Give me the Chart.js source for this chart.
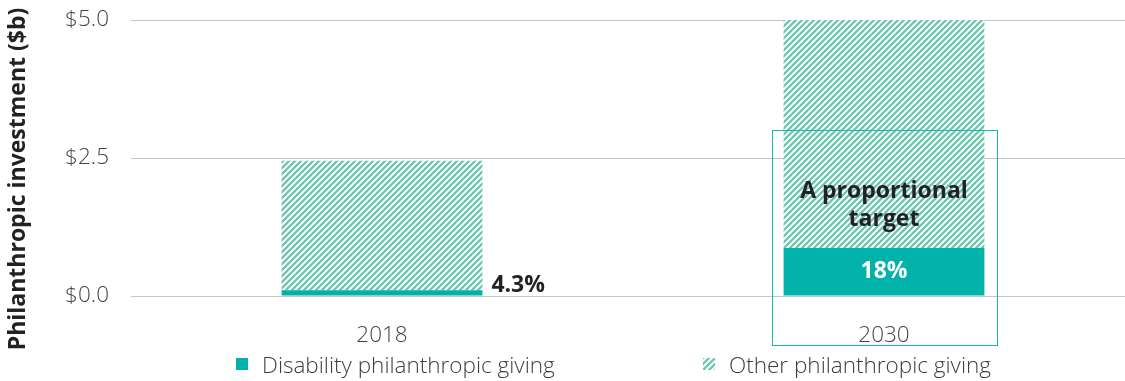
<!DOCTYPE html>
<html>
<head>
<meta charset="utf-8">
<script src="https://cdn.jsdelivr.net/npm/chart.js@4.4.1/dist/chart.umd.min.js"></script>
<style>
  html, body { margin: 0; padding: 0; background: #fff; overflow: hidden; }
  #wrap { position: relative; width: 1125px; height: 381px; overflow: hidden; }
  #legend { position: absolute; top: 349px; left: 0; width: 1125px; height: 30px;
            font-family: "Open Sans", sans-serif; font-weight: 300; font-size: 22.5px; color: #3d3d3d; }
  .item { position: absolute; top: 0; display: flex; align-items: center; height: 30px; }
  .box { width: 12px; height: 12px; margin-right: 14px; }
</style>
</head>
<body>
<div id="wrap">
  <canvas id="grafico" width="1135" height="381"></canvas>
  <div id="legend">
    <div class="item" style="left:236px"><span class="box" style="background:#00b2a9"></span>Disability philanthropic giving</div>
    <div class="item" style="left:703px"><span class="box" id="hatchBox"></span>Other philanthropic giving</div>
  </div>
</div>
<script>
// Dados do gráfico
const years = ['2018', '2030'];
const disabilityGiving = [0.105, 0.87];
const otherGiving = [2.345, 4.13];
const shareLabels = ['4.3%', '18%'];
const yTicks = [0, 2.5, 5.0];
const targetBoxTop = 3.0;

const teal = '#00b2a9';
const hatchColor = '#6ec6b0';

// Cria padrão listrado
function makeHatch() {
    const s = 6;
    const c = document.createElement('canvas');
    c.width = s; c.height = s;
    const g = c.getContext('2d');
    g.fillStyle = '#fff';
    g.fillRect(0, 0, s, s);
    g.strokeStyle = hatchColor;
    g.lineWidth = 2.3;
    g.beginPath();
    g.moveTo(-s / 4, s / 4); g.lineTo(s / 4, -s / 4);
    g.moveTo(0, s); g.lineTo(s, 0);
    g.moveTo(s * 0.75, s * 1.25); g.lineTo(s * 1.25, s * 0.75);
    g.stroke();
    return c;
}
const hatchCanvas = makeHatch();
const ctx = document.getElementById('grafico').getContext('2d');
const hatch = ctx.createPattern(hatchCanvas, 'repeat');
document.getElementById('hatchBox').style.background = 'url(' + hatchCanvas.toDataURL() + ')';

// Rótulos e anotações
const annotations = {
    id: 'annotations',
    afterDatasetsDraw(chart) {
        const c = chart.ctx;
        const y = chart.scales.y;
        const area = chart.chartArea;
        const base = chart.getDatasetMeta(0).data;
        const top = chart.getDatasetMeta(1).data;

        c.save();
        // Caixa de destaque em 2030
        const b = top[1];
        const left = b.x - b.width / 2 - 12;
        const right = b.x + b.width / 2 + 12;
        c.strokeStyle = '#14bbaf';
        c.lineWidth = 1;
        c.strokeRect(Math.round(left) + 0.5, Math.round(y.getPixelForValue(targetBoxTop)) + 0.5,
            Math.round(right - left), Math.round(area.bottom + 49 - y.getPixelForValue(targetBoxTop)));

        c.font = 'bold 23px "Open Sans"';
        c.textBaseline = 'middle';
        // 4.3%
        c.fillStyle = '#222';
        c.textAlign = 'left';
        const b0 = base[0];
        c.fillText(shareLabels[0], b0.x + b0.width / 2 + 9, area.bottom - 11);
        // 18%
        const b1 = base[1];
        c.textAlign = 'center';
        c.fillStyle = '#fff';
        c.fillText(shareLabels[1], b1.x, (b1.y + b1.base) / 2);
        // texto do alvo
        c.fillStyle = '#222';
        c.fillText('A proportional', b1.x, b1.y - 57);
        c.fillText('target', b1.x, b1.y - 29);

        // Título do eixo Y
        c.translate(18, (area.top + area.bottom) / 2 + 21);
        c.rotate(-Math.PI / 2);
        c.fillText('Philanthropic investment ($b)', 0, 0);
        c.restore();
    }
};

new Chart(ctx, {
    type: 'bar',
    data: {
        labels: years,
        datasets: [
            { label: 'Disability philanthropic giving', data: disabilityGiving, backgroundColor: teal },
            { label: 'Other philanthropic giving', data: otherGiving, backgroundColor: hatch }
        ]
    },
    options: {
        responsive: false,
        animation: false,
        layout: { padding: { top: 20, right: 0, bottom: 0, left: 0 } },
        datasets: { bar: { barPercentage: 0.4, categoryPercentage: 1, borderWidth: 0 } },
        plugins: { legend: { display: false }, tooltip: { enabled: false } },
        scales: {
            x: {
                stacked: true,
                grid: { display: false },
                border: { display: false },
                ticks: { padding: 18, color: '#444', font: { family: 'Open Sans', weight: 300, size: 22.5 } },
                afterFit: s => { s.height = 85; s.paddingLeft = 0; s.paddingRight = 0; }
            },
            y: {
                stacked: true,
                min: 0, max: 5,
                afterBuildTicks: s => { s.ticks = yTicks.map(v => ({ value: v })); },
                grid: { color: '#c4c4c4', drawTicks: false },
                border: { display: false },
                ticks: {
                    padding: 22, color: '#444',
                    font: { family: 'Open Sans', weight: 300, size: 22.5 },
                    callback: v => '$' + v.toFixed(1)
                },
                afterFit: s => { s.width = 131; s.paddingTop = 0; s.paddingBottom = 0; }
            }
        }
    },
    plugins: [annotations]
});
</script>
</body>
</html>
